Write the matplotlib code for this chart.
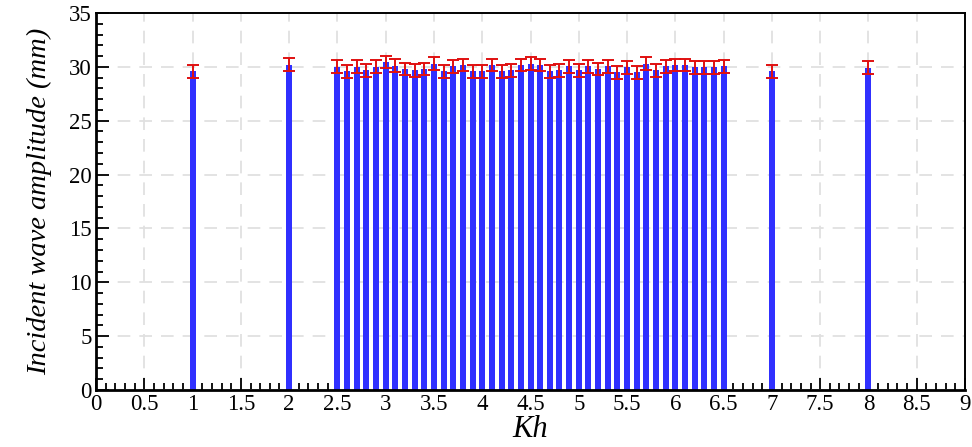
import numpy as np
import matplotlib
matplotlib.use("Agg")
import matplotlib.pyplot as plt
from matplotlib.ticker import MultipleLocator

plt.rcParams['font.family'] = ['Liberation Serif', 'DejaVu Serif']

# wave number Kh and measured incident amplitude (mm)
kh = [1.0, 2.0,
      2.5, 2.6, 2.7, 2.8, 2.9, 3.0, 3.1, 3.2, 3.3, 3.4,
      3.5, 3.6, 3.7, 3.8, 3.9, 4.0, 4.1, 4.2, 4.3, 4.4,
      4.5, 4.6, 4.7, 4.8, 4.9, 5.0, 5.1, 5.2, 5.3, 5.4,
      5.5, 5.6, 5.7, 5.8, 5.9, 6.0, 6.1, 6.2, 6.3, 6.4, 6.5,
      7.0, 8.0]
amplitude = [29.6, 30.2,
             30.0, 29.6, 30.0, 29.7, 30.0, 30.45, 30.1, 29.8, 29.7, 29.8,
             30.27, 29.6, 30.05, 30.17, 29.6, 29.6, 30.17, 29.6, 29.7, 30.17,
             30.27, 30.17, 29.6, 29.7, 30.05, 29.7, 30.05, 29.8, 30.05, 29.5,
             29.97, 29.5, 30.27, 29.7, 30.05, 30.17, 30.17, 29.97, 29.97, 29.97, 30.05,
             29.6, 29.9]
error = [0.6] * len(kh)
xtick_labels = ['0', '0.5', '1', '1.5', '2', '2.5', '3', '3.5', '4', '4.5',
                '5', '5.5', '6', '6.5', '7', '7.5', '8', '8.5', '9']

fig = plt.figure(figsize=(9.72, 4.47), dpi=100)
ax = fig.add_axes([0.0988, 0.1275, 0.894, 0.8435])

ax.grid(True, color='#e0e0e0', linestyle=(0, (7, 5)), linewidth=1.3)
ax.set_axisbelow(True)

ax.bar(kh, amplitude, width=0.062, color='#3030ff', zorder=2)
ax.errorbar(kh, amplitude, yerr=error, fmt='none', ecolor='#e01010',
            elinewidth=1.4, capsize=4, capthick=1.4, zorder=3)

ax.set_xlim(0, 9)
ax.set_ylim(0, 35)
ax.set_xticks(np.arange(0, 9.01, 0.5))
ax.set_xticklabels(xtick_labels)
ax.xaxis.set_minor_locator(MultipleLocator(0.1))
ax.yaxis.set_major_locator(MultipleLocator(5))
ax.yaxis.set_minor_locator(MultipleLocator(1))

ax.tick_params(which='both', direction='in', labelsize=16.5, width=1.3,
               top=False, right=False)
ax.tick_params(which='major', length=9, pad=3)
ax.tick_params(which='minor', length=5)

for side in ['left', 'bottom']:
    ax.spines[side].set_linewidth(2.0)
for side in ['top', 'right']:
    ax.spines[side].set_linewidth(1.4)

ax.set_xlabel('Kh', fontsize=22, style='italic', labelpad=0)
ax.set_ylabel('Incident wave amplitude (mm)', fontsize=20.5, style='italic', labelpad=12)

fig.savefig('out.png', dpi=100)
